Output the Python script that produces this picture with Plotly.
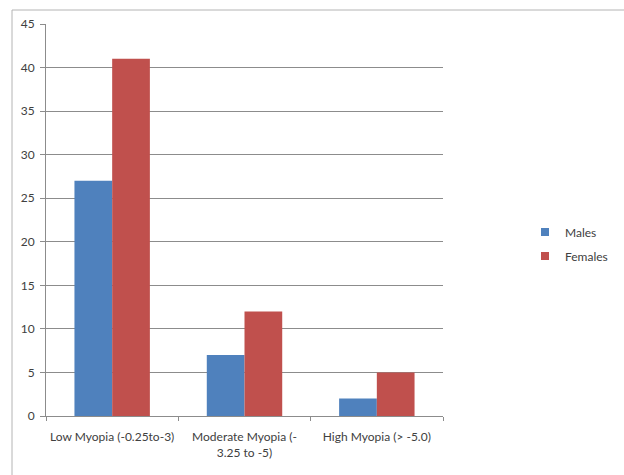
import plotly.graph_objects as go

categories = ["Low Myopia (-0.25to-3)", "Moderate Myopia (-<br>3.25 to -5)", "High Myopia (> -5.0)"]
males = [27, 7, 2]
females = [41, 12, 5]
y_ticks = [0, 5, 10, 15, 20, 25, 30, 35, 40, 45]
series_colors = {"Males": "#4f81bd", "Females": "#c0504d"}

font = dict(family="Lato, Open Sans, sans-serif", size=12, color="#404040")

fig = go.Figure()
for name, vals in (("Males", males), ("Females", females)):
    fig.add_trace(go.Bar(name=name, x=categories, y=vals, showlegend=False,
                         marker=dict(color=series_colors[name], line=dict(width=0))))
    # small square legend swatch
    fig.add_trace(go.Scatter(name=name, x=[None], y=[None], mode="markers", legendgroup=name,
                             marker=dict(symbol="square", size=8, color=series_colors[name])))

L, R, T, B = 46, 181, 24, 59
W, H = 624, 475
pw, ph = W - L - R, H - T - B

fig.update_layout(
    width=W, height=H,
    margin=dict(l=L, r=R, t=T, b=B, pad=0, autoexpand=False),
    paper_bgcolor="white", plot_bgcolor="white",
    barmode="group", bargap=0.43, bargroupgap=0,
    font=font,
    showlegend=True,
    legend=dict(x=(525 - L) / pw, y=(ph - (244 - T)) / ph, yanchor="middle", xanchor="left",
                font=dict(size=12, color="#404040"), bgcolor="rgba(0,0,0,0)",
                tracegroupgap=5, itemwidth=30),
    xaxis=dict(type="category", tickson="boundaries", ticks="outside", ticklen=4,
               tickcolor="#8c8c8c", showline=True, linecolor="#8c8c8c", linewidth=1,
               showgrid=False, tickfont=font, ticklabelstandoff=10, tickangle=0,
               automargin=False),
    yaxis=dict(range=[0, 45], tickvals=y_ticks, ticks="outside", ticklen=5,
               tickcolor="#8c8c8c", showline=True, linecolor="#8c8c8c", linewidth=1,
               showgrid=True, gridcolor="#8c8c8c", gridwidth=1, zeroline=False,
               tickfont=font, ticklabelstandoff=3, automargin=False),
)

# outer chart frame
fig.add_shape(type="rect", xref="paper", yref="paper",
              x0=(12 - L) / pw, x1=(W + 20 - L) / pw,
              y0=-(H + 20 - T - ph) / ph, y1=1 + (T - 10) / ph,
              line=dict(color="#b4b4b4", width=1), fillcolor="rgba(0,0,0,0)", layer="below")

fig.write_html("out.html")
